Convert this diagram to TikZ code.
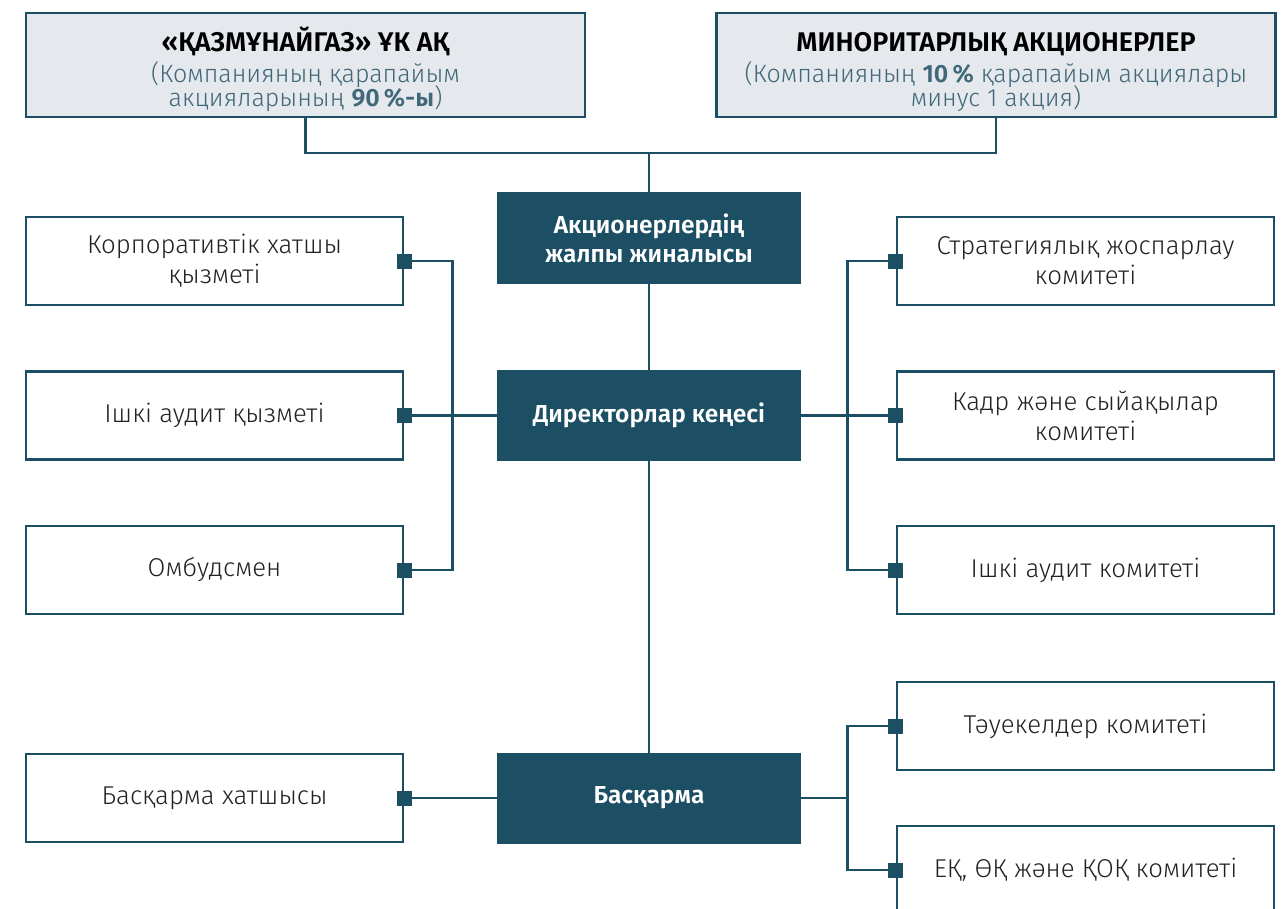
\documentclass[tikz,border=0pt]{standalone}
\usepackage{fontspec}
\setmainfont{Fira Sans}[UprightFont={* Light},BoldFont={* SemiBold}]
\definecolor{teal}{HTML}{1C4F64}
\definecolor{paleb}{HTML}{E5E8ED}
\definecolor{subt}{HTML}{3F6878}
\definecolor{txt}{HTML}{222222}
\tikzset{
  conn/.style={draw=teal, line width=2.6pt},
  wbox/.style={draw=teal, line width=2.8pt, fill=white, minimum width=377pt, minimum height=88pt, align=center, text=txt, font=\fontsize{25.8}{30}\selectfont, inner sep=0pt},
  dbox/.style={draw=teal, line width=2pt, fill=teal, minimum width=302pt, minimum height=89pt, align=center, text=white, font=\fontsize{24.5}{29}\selectfont\bfseries, inner sep=0pt},
  tbox/.style={draw=teal, line width=2.8pt, fill=paleb, minimum width=559pt, minimum height=104pt, inner sep=0pt},
  ttl/.style={font=\fontsize{27}{30}\selectfont\bfseries, text=black, inner sep=0pt},
  sub/.style={text=subt, font=\fontsize{25}{24}\selectfont, align=center, inner sep=0pt, anchor=north},
  sq/.style={fill=teal, minimum size=15pt, inner sep=0pt, draw=none}
}
\begin{document}
\begin{tikzpicture}[x=1pt,y=-1pt]
\clip (0,0) rectangle (1281,909);
\fill[white] (0,0) rectangle (1281,909);
% top boxes
\node[tbox] (kmg) at (305.5,65) {};
\node[ttl, anchor=base] (kmgt) at ([yshift=-40pt]kmg.north) {«ҚАЗМҰНАЙГАЗ» ҰК АҚ};
\node[sub] (kmgs) at ([yshift=-10pt]kmgt.base) {(Компанияның қарапайым\\[-3pt]акцияларының \textbf{90\,\%-ы})};
\node[tbox] (min) at (996,65) {};
\node[ttl, anchor=base] (mint) at ([yshift=-40pt]min.north) {МИНОРИТАРЛЫҚ АКЦИОНЕРЛЕР};
\node[sub] (mins) at ([yshift=-10pt]mint.base) {(Компанияның \textbf{10\,\%} қарапайым акциялары\\[-3pt]минус 1 акция)};
% central column
\node[dbox] (gms) at (649,238) {Акционерлердің\\жалпы жиналысы};
\node[dbox] (bod) at (649,415.5) {Директорлар кеңесі};
\node[dbox] (mb) at (649,798) {Басқарма};
% left boxes
\node[wbox] (corp) at (214.5,261) {Корпоративтік хатшы\\қызметі};
\node[wbox] (ia) at (214.5,415.5) {Ішкі аудит қызметі};
\node[wbox] (omb) at (214.5,570) {Омбудсмен};
\node[wbox] (bsec) at (214.5,798) {Басқарма хатшысы};
% right boxes
\node[wbox] (str) at (1085.5,261) {Стратегиялық жоспарлау\\комитеті};
\node[wbox] (hr) at (1085.5,415.5) {Кадр және сыйақылар\\комитеті};
\node[wbox] (iac) at (1085.5,570) {Ішкі аудит комитеті};
\node[wbox] (risk) at (1085.5,726) {Тәуекелдер комитеті};
\node[wbox] (hse) at (1085.5,870) {ЕҚ, ӨҚ және ҚОҚ комитеті};
% connectors
\coordinate (topjoin) at (649,153);
\draw[conn] (kmg.south) |- (topjoin) -| (min.south);
\draw[conn] (topjoin) -- (gms.north);
\draw[conn] (gms.south) -- (bod.north);
\draw[conn] (bod.south) -- (mb.north);
\draw[conn] (corp.east) -- ++(48,0) |- (omb.east);
\draw[conn] (bod.west) -- (ia.east);
\draw[conn] (str.west) -- ++(-48,0) |- (iac.west);
\draw[conn] (bod.east) -- (hr.west);
\draw[conn] (risk.west) -- ++(-48,0) |- (hse.west);
\draw[conn] (mb.east) -- ++(48,0);
\draw[conn] (mb.west) -- (bsec.east);
% squares
\foreach \n in {corp,ia,omb,bsec} \node[sq] at (\n.east) {};
\foreach \n in {str,hr,iac,risk,hse} \node[sq] at (\n.west) {};
\end{tikzpicture}
\end{document}
